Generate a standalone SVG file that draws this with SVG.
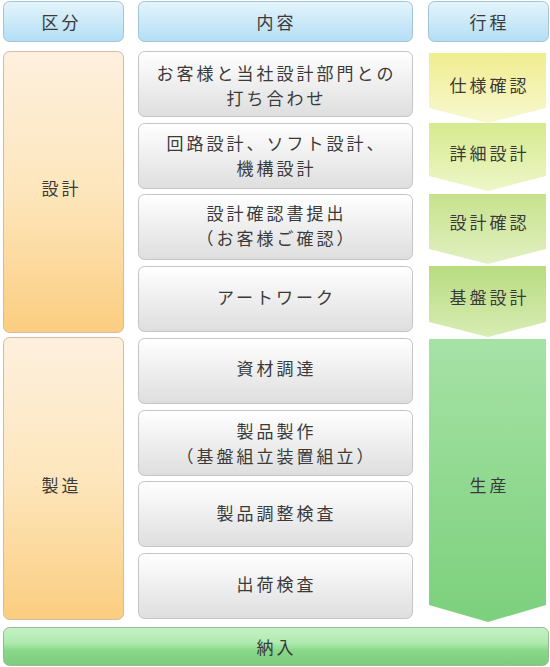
<svg xmlns="http://www.w3.org/2000/svg" width="550" height="667" viewBox="0 0 550 667">
<defs>
<linearGradient id="gHead" x1="0" y1="0" x2="0" y2="1"><stop offset="0" stop-color="#e4f4fc"/><stop offset="1" stop-color="#b3def5"/></linearGradient>
<linearGradient id="gCat" x1="0" y1="0" x2="0" y2="1"><stop offset="0" stop-color="#fdf0de"/><stop offset="0.5" stop-color="#fde6bc"/><stop offset="1" stop-color="#fbcd80"/></linearGradient>
<linearGradient id="gBox" x1="0" y1="0" x2="0" y2="1"><stop offset="0" stop-color="#ffffff"/><stop offset="1" stop-color="#dedede"/></linearGradient>
<linearGradient id="gA1" x1="0" y1="0" x2="0" y2="1"><stop offset="0" stop-color="#efed8e"/><stop offset="1" stop-color="#f8f8d2"/></linearGradient>
<linearGradient id="gA2" x1="0" y1="0" x2="0" y2="1"><stop offset="0" stop-color="#d6ea8e"/><stop offset="1" stop-color="#eef6c8"/></linearGradient>
<linearGradient id="gA3" x1="0" y1="0" x2="0" y2="1"><stop offset="0" stop-color="#c6e28c"/><stop offset="1" stop-color="#e2f0c2"/></linearGradient>
<linearGradient id="gA4" x1="0" y1="0" x2="0" y2="1"><stop offset="0" stop-color="#b8dc80"/><stop offset="1" stop-color="#d8ecb4"/></linearGradient>
<linearGradient id="gA5" x1="0" y1="0" x2="0" y2="1"><stop offset="0" stop-color="#a6e2a6"/><stop offset="1" stop-color="#7cd07c"/></linearGradient>
<linearGradient id="gEnd" x1="0" y1="0" x2="0" y2="1"><stop offset="0" stop-color="#c4f2c4"/><stop offset="0.4" stop-color="#b0eab0"/><stop offset="0.6" stop-color="#8ad88a"/><stop offset="1" stop-color="#7ccc7c"/></linearGradient>
</defs>
<style>
text{font-family:"Noto Sans CJK JP","Noto Sans",sans-serif;font-size:17px;letter-spacing:3px;fill:#3a3a3a;text-anchor:middle;dominant-baseline:central}
.head{fill:url(#gHead);stroke:#a2c4d6;stroke-width:1}
.cat{fill:url(#gCat);stroke:#dcb8a0;stroke-width:1}
.box{fill:url(#gBox);stroke:#c4c4c4;stroke-width:1}
.end{fill:url(#gEnd);stroke:#9cb89c;stroke-width:1}
</style>
<g id="head-kubun"><rect class="head" x="3.5" y="1.5" width="120" height="40" rx="6"/><text x="61.5" y="21">区分</text></g>
<g id="head-naiyou"><rect class="head" x="138.5" y="1.5" width="274" height="40" rx="6"/><text x="276.5" y="21">内容</text></g>
<g id="head-koutei"><rect class="head" x="428.5" y="1.5" width="120" height="40" rx="6"/><text x="489.5" y="21">行程</text></g>

<g id="cat-sekkei"><rect class="cat" x="3.5" y="51.5" width="120" height="281" rx="6"/><text x="61.5" y="187">設計</text></g>
<g id="cat-seizou"><rect class="cat" x="3.5" y="337.5" width="120" height="282" rx="6"/><text x="61.5" y="484">製造</text></g>

<g id="c1"><rect class="box" x="138.5" y="51.5" width="274" height="65" rx="6"/><text x="276.5" y="72">お客様と当社設計部門との</text><text x="276.5" y="97">打ち合わせ</text></g>
<g id="c2"><rect class="box" x="138.5" y="123.5" width="274" height="65" rx="6"/><text x="276.5" y="142">回路設計、ソフト設計、</text><text x="276.5" y="167">機構設計</text></g>
<g id="c3"><rect class="box" x="138.5" y="194.5" width="274" height="65" rx="6"/><text x="276.5" y="212">設計確認書提出</text><text x="276.5" y="237">（お客様ご確認）</text></g>
<g id="c4"><rect class="box" x="138.5" y="266.5" width="274" height="65" rx="6"/><text x="276.5" y="296">アートワーク</text></g>
<g id="c5"><rect class="box" x="138.5" y="338.5" width="274" height="65" rx="6"/><text x="276.5" y="367">資材調達</text></g>
<g id="c6"><rect class="box" x="138.5" y="410.5" width="274" height="65" rx="6"/><text x="276.5" y="430">製品製作</text><text x="276.5" y="455">（基盤組立装置組立）</text></g>
<g id="c7"><rect class="box" x="138.5" y="481.5" width="274" height="65" rx="6"/><text x="276.5" y="512">製品調整検査</text></g>
<g id="c8"><rect class="box" x="138.5" y="553.5" width="274" height="65" rx="6"/><text x="276.5" y="583">出荷検査</text></g>

<g id="connectors">
<g id="a1"><polygon points="429,53 546,53 546,108 488,123 429,108" fill="url(#gA1)"/><text x="489.5" y="84">仕様確認</text></g>
<g id="a2"><polygon points="429,123 546,123 546,176 488,191 429,176" fill="url(#gA2)"/><text x="489.5" y="152">詳細設計</text></g>
<g id="a3"><polygon points="429,194 546,194 546,249 488,264 429,249" fill="url(#gA3)"/><text x="489.5" y="221">設計確認</text></g>
<g id="a4"><polygon points="429,266 546,266 546,322 488,337 429,322" fill="url(#gA4)"/><text x="489.5" y="296">基盤設計</text></g>
<g id="a5"><polygon points="429,339 546,339 546,605 488,622 429,605" fill="url(#gA5)"/><text x="489.5" y="484">生産</text></g>
</g>

<g id="nounyuu"><rect class="end" x="3.5" y="627.5" width="545" height="38" rx="6"/><text x="276.5" y="646">納入</text></g>
</svg>
